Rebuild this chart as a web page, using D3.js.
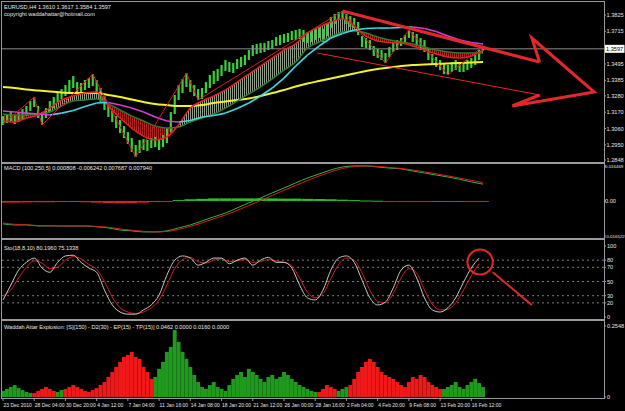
<!DOCTYPE html>
<html><head><meta charset="utf-8">
<script src="https://cdn.jsdelivr.net/npm/d3@7"></script>
<style>html,body{margin:0;padding:0;background:#000;overflow:hidden}svg{display:block}text{font-family:"Liberation Sans",Arial,sans-serif}</style>
</head><body><svg id="c" width="625" height="411"></svg>
<script>
// ---------- DATA ----------
const timeLabels = ["23 Dec 2010","28 Dec 04:00","30 Dec 20:00","4 Jan 12:00","7 Jan 04:00","11 Jan 16:00","14 Jan 08:00","18 Jan 20:00","21 Jan 12:00","26 Jan 00:00","28 Jan 16:00","2 Feb 04:00","4 Feb 20:00","9 Feb 08:00","13 Feb 20:00","16 Feb 12:00"];
const priceTicks = [1.3825,1.3715,1.3495,1.3385,1.3280,1.3170,1.3060,1.2950,1.2848];
const lastPrice = 1.3597;
// price bars sampled every 2 bars
const highs = [1.3144,1.3158,1.3171,1.3151,1.3171,1.3191,1.3212,1.3245,1.3272,1.3212,
1.3171,1.3198,1.3245,1.3272,1.3306,1.3326,1.3353,1.3387,1.3414,1.3373,
1.3367,1.3387,1.3400,1.3427,1.3387,1.3333,1.3279,1.3225,1.3185,1.3144,
1.3117,1.3077,1.3036,1.2996,1.2949,1.2983,1.2989,1.2983,1.2996,1.3003,
1.2989,1.3016,1.3063,1.3171,1.3286,1.3353,1.3394,1.3434,1.3387,1.3353,
1.3326,1.3333,1.3373,1.3421,1.3448,1.3461,1.3488,1.3522,1.3508,1.3501,
1.3528,1.3542,1.3555,1.3589,1.3623,1.3630,1.3636,1.3636,1.3650,1.3656,
1.3677,1.3690,1.3697,1.3704,1.3717,1.3724,1.3731,1.3724,1.3710,1.3724,
1.3737,1.3744,1.3731,1.3764,1.3812,1.3832,1.3845,1.3852,1.3832,1.3818,
1.3805,1.3778,1.3683,1.3670,1.3656,1.3616,1.3596,1.3589,1.3569,1.3609,
1.3636,1.3656,1.3670,1.3690,1.3724,1.3710,1.3697,1.3670,1.3656,1.3603,
1.3562,1.3542,1.3522,1.3495,1.3488,1.3508,1.3522,1.3508,1.3501,1.3522,
1.3535,1.3555,1.3589,1.3617];
const lows = [1.3084,1.3097,1.3111,1.3090,1.3104,1.3124,1.3144,1.3178,1.3205,1.3131,
1.3084,1.3131,1.3171,1.3198,1.3239,1.3259,1.3279,1.3306,1.3333,1.3293,
1.3299,1.3320,1.3333,1.3346,1.3299,1.3239,1.3185,1.3138,1.3104,1.3063,
1.3030,1.2996,1.2956,1.2902,1.2868,1.2895,1.2915,1.2908,1.2929,1.2935,
1.2915,1.2935,1.2962,1.3036,1.3158,1.3252,1.3299,1.3340,1.3306,1.3279,
1.3252,1.3259,1.3299,1.3333,1.3360,1.3380,1.3414,1.3448,1.3441,1.3434,
1.3461,1.3475,1.3488,1.3522,1.3549,1.3562,1.3569,1.3576,1.3589,1.3596,
1.3616,1.3623,1.3636,1.3643,1.3656,1.3656,1.3663,1.3643,1.3636,1.3643,
1.3656,1.3670,1.3643,1.3683,1.3737,1.3764,1.3791,1.3798,1.3764,1.3744,
1.3737,1.3690,1.3609,1.3603,1.3589,1.3549,1.3535,1.3522,1.3501,1.3542,
1.3576,1.3589,1.3616,1.3636,1.3670,1.3643,1.3616,1.3589,1.3576,1.3522,
1.3495,1.3475,1.3454,1.3427,1.3421,1.3441,1.3454,1.3441,1.3441,1.3454,
1.3468,1.3488,1.3522,1.3584];
// moving averages sampled every 6 bars
const yellowMA = [1.3340,1.3333,1.3323,1.3316,1.3309,1.3303,1.3299,1.3299,1.3299,1.3286,
1.3272,1.3255,1.3239,1.3225,1.3218,1.3212,1.3212,1.3218,1.3232,1.3242,
1.3252,1.3262,1.3279,1.3299,1.3320,1.3343,1.3363,1.3380,1.3397,1.3414,
1.3431,1.3448,1.3461,1.3471,1.3481,1.3488,1.3491,1.3495,1.3498,1.3501,
1.3505,1.3508];
const slopeMA = [1.3178,1.3171,1.3164,1.3158,1.3151,1.3164,1.3181,1.3208,1.3232,1.3235,
1.3218,1.3198,1.3171,1.3138,1.3111,1.3104,1.3114,1.3138,1.3148,1.3164,
1.3195,1.3232,1.3279,1.3333,1.3400,1.3481,1.3555,1.3616,1.3670,1.3700,
1.3724,1.3734,1.3737,1.3737,1.3741,1.3744,1.3734,1.3714,1.3683,1.3656,
1.3640,1.3630];
const fastMA = [1.3111,1.3104,1.3131,1.3151,1.3198,1.3252,1.3279,1.3299,1.3306,1.3212,
1.3131,1.3063,1.3009,1.2983,1.3003,1.3084,1.3198,1.3245,1.3279,1.3320,
1.3373,1.3427,1.3481,1.3535,1.3589,1.3630,1.3704,1.3744,1.3778,1.3798,
1.3751,1.3683,1.3650,1.3640,1.3636,1.3616,1.3589,1.3562,1.3542,1.3535,
1.3549,1.3589];
const slowMA = [1.3158,1.3151,1.3151,1.3158,1.3171,1.3212,1.3245,1.3252,1.3259,1.3225,
1.3185,1.3144,1.3111,1.3077,1.3063,1.3070,1.3104,1.3131,1.3158,1.3198,
1.3245,1.3293,1.3340,1.3394,1.3454,1.3508,1.3603,1.3643,1.3677,1.3710,
1.3717,1.3704,1.3677,1.3656,1.3643,1.3630,1.3609,1.3589,1.3576,1.3569,
1.3569,1.3569];
// zigzag (bar index, price)
const zzIdx = [0,16,20,46,68,94,100,174,196,208,228,246];
const zzPrice = [1.3090,1.3272,1.3084,1.3427,1.2868,1.3434,1.3252,1.3852,1.3501,1.3724,1.3421,1.3616];
// drawn objects (bar index, price)
const upperLineIdx = [174,275], upperLinePrice = [1.3852,1.3508];
const lowerLineIdx = [161,275], lowerLinePrice = [1.3569,1.3286];
const arrowIdx = [275,271,303,261,275], arrowPrice = [1.3508,1.3670,1.3306,1.3212,1.3286];
// MACD sampled every 6 bars
const macdMain = [-0.0108,-0.0113,-0.0113,-0.0118,-0.0118,-0.0118,-0.0118,-0.0118,-0.0122,-0.0127,
-0.0137,-0.0141,-0.0146,-0.0146,-0.0141,-0.0127,-0.0113,-0.0094,-0.0075,-0.0057,
-0.0033,-0.0009,0.0014,0.0038,0.0061,0.0085,0.0108,0.0127,0.0146,0.0160,
0.0165,0.0165,0.0160,0.0155,0.0151,0.0141,0.0132,0.0122,0.0113,0.0102,
0.0090,0.0079];
const macdSignal = [-0.0104,-0.0110,-0.0112,-0.0116,-0.0117,-0.0118,-0.0118,-0.0118,-0.0120,-0.0124,
-0.0132,-0.0138,-0.0143,-0.0146,-0.0144,-0.0134,-0.0120,-0.0103,-0.0084,-0.0066,
-0.0045,-0.0021,0.0002,0.0026,0.0050,0.0073,0.0096,0.0118,0.0137,0.0153,
0.0162,0.0165,0.0163,0.0158,0.0153,0.0146,0.0137,0.0128,0.0118,0.0108,
0.0097,0.0087];
const macdHist = [-0.0008,-0.0008,-0.0007,-0.0006,-0.0006,-0.0005,-0.0005,-0.0006,-0.0008,-0.0010,
-0.0011,-0.0010,-0.0008,-0.0005,-0.0002,0.0004,0.0008,0.0010,0.0012,0.0012,
0.0012,0.0012,0.0012,0.0012,0.0011,0.0011,0.0010,0.0009,0.0008,0.0006,
0.0004,0.0002,0.0001,-0.0001,-0.0002,-0.0003,-0.0004,-0.0005,-0.0005,-0.0005,
-0.0004,-0.0003];
// Stochastic sampled every 4 bars
const stoMain = [24,45,66,77,83,69,63,77,86,87,77,69,63,38,17,7,4,4,10,17,31,59,80,86,83,73,77,83,83,75,80,83,73,80,84,77,77,69,45,27,24,38,66,83,86,77,52,27,17,21,41,66,73,55,27,10,7,13,27,49,69,83];
const stoSignal = [30,38,55,70,79,76,68,70,80,85,82,74,67,50,28,13,7,5,7,13,24,45,68,81,84,78,76,80,82,78,79,81,77,78,81,79,77,72,55,35,27,33,54,74,83,80,62,38,22,20,33,55,68,62,38,18,10,11,20,38,58,75];
const stoLevels = [80,70,50,30,20];
const stoTicks = [100,80,70,50,30,20,0];
const circleIdx = [238,251], circleVal = [95,60];
const slashIdx = [251,271], slashVal = [63,17];
// Waddah Attar Explosion trend, every 2 bars (positive = up/green, negative = down/red)
const waeTrend = [0.022,0.029,0.036,0.043,0.032,0.025,0.018,0.014,
-0.014,-0.022,-0.029,-0.036,-0.029,-0.022,0.018,0.025,
-0.029,-0.036,-0.043,-0.036,-0.029,-0.022,-0.018,-0.025,-0.032,-0.043,
-0.054,-0.072,-0.090,-0.108,-0.126,-0.144,-0.151,-0.162,-0.144,-0.137,-0.108,-0.090,-0.065,
0.072,0.101,0.126,0.162,0.180,0.241,0.198,0.162,0.137,0.108,0.079,0.054,
0.036,0.029,0.043,0.054,0.036,0.029,0.022,
0.043,0.065,0.079,0.090,0.072,0.101,0.090,0.079,0.065,0.054,0.072,0.079,0.065,
0.072,0.090,0.079,0.065,0.054,0.043,0.036,0.029,0.022,0.018,
-0.018,-0.029,-0.043,-0.036,-0.029,0.022,0.029,0.036,
-0.043,-0.065,-0.090,-0.108,-0.126,-0.137,-0.126,-0.108,-0.090,-0.079,-0.072,-0.065,-0.054,-0.043,-0.036,
-0.054,-0.072,-0.065,-0.079,-0.072,-0.054,-0.043,-0.036,-0.029,
0.029,0.036,0.043,0.054,0.036,0.029,0.043,0.054,0.065,0.050,0.036];

// ---------- LAYOUT ----------
const svg = d3.select('#c');
const L = 2, R = 604;
const P = {main:[2,162], macd:[164,238], sto:[240,319], wae:[321,398]};
const x = d3.scaleLinear().domain([0,308]).range([3,604]);
const yP = d3.scaleLinear().domain([1.2848,1.3825]).range([160,15]);
const yM = d3.scaleLinear().domain([-0.016522,0.016469]).range([236,166]);
const yS = d3.scaleLinear().domain([0,100]).range([317,246]);
const yW = d3.scaleLinear().domain([0,0.2548]).range([397,326]);
const idx2 = highs.map((d,k)=>k*2);
const idx6 = yellowMA.map((d,k)=>k*6);
const idx4 = stoMain.map((d,k)=>k*4);

svg.append('rect').attr('width',625).attr('height',411).attr('fill','#000');
const defs = svg.append('defs');
function hatch(id,color){
  const p = defs.append('pattern').attr('id',id).attr('patternUnits','userSpaceOnUse').attr('width',2).attr('height',4);
  p.append('rect').attr('width',1).attr('height',4).attr('fill',color);
}
hatch('hUp','#8f9c88'); hatch('hDn','#a82020');
Object.entries(P).forEach(([k,v])=>{
  defs.append('clipPath').attr('id','clip-'+k).append('rect').attr('x',L).attr('y',v[0]).attr('width',R-L).attr('height',v[1]-v[0]);
});
const txt = (g,xx,yy,s,size,fill)=>g.append('text').attr('x',xx).attr('y',yy).attr('font-size',size||6)
    .attr('fill',fill||'#e6e6e6').attr('text-anchor','start').text(s);

// ---------- MAIN PANEL ----------
const gm = svg.append('g').attr('clip-path','url(#clip-main)');
const fastLine = d3.line().x((d,k)=>x(idx6[k])).y(d=>yP(d)).curve(d3.curveMonotoneX);
const band = d3.area().x((d,k)=>x(idx6[k])).y0((d,k)=>yP(slowMA[k])).y1(d=>yP(d)).curve(d3.curveMonotoneX);
const below = d3.area().x((d,k)=>x(idx6[k])).y0(d=>yP(d)).y1(P.main[1]).curve(d3.curveMonotoneX);
const above = d3.area().x((d,k)=>x(idx6[k])).y0(P.main[0]).y1(d=>yP(d)).curve(d3.curveMonotoneX);
defs.append('clipPath').attr('id','cUp').append('path').attr('d',below(fastMA));
defs.append('clipPath').attr('id','cDn').append('path').attr('d',above(fastMA));
gm.append('g').attr('clip-path','url(#cUp)').append('path').attr('d',band(fastMA)).attr('fill','url(#hUp)');
gm.append('g').attr('clip-path','url(#cDn)').append('path').attr('d',band(fastMA)).attr('fill','url(#hDn)');
gm.append('g').selectAll('line').data(highs).join('line')
  .attr('x1',(d,k)=>x(idx2[k])).attr('x2',(d,k)=>x(idx2[k]))
  .attr('y1',d=>yP(d)).attr('y2',(d,k)=>yP(lows[k]))
  .attr('stroke','#3ccf3c').attr('stroke-width',2.2);
gm.append('line').attr('x1',L).attr('x2',R).attr('y1',yP(lastPrice)).attr('y2',yP(lastPrice)).attr('stroke','#8c8c8c').attr('stroke-width',1);
const maLine = d3.line().x((d,k)=>x(idx6[k])).y(d=>yP(d)).curve(d3.curveMonotoneX);
gm.append('path').attr('d',maLine(yellowMA)).attr('fill','none').attr('stroke','#f2f22a').attr('stroke-width',2);
gm.append('path').attr('d',maLine(slowMA)).attr('fill','none').attr('stroke','#2f7a2f').attr('stroke-width',1.5);
gm.append('path').attr('d',fastLine(fastMA)).attr('fill','none').attr('stroke','#e82020').attr('stroke-width',1.5);
for(let k=0;k<slopeMA.length-1;k++){
  gm.append('path').attr('d',d3.line()([[x(idx6[k]),yP(slopeMA[k])],[x(idx6[k+1]),yP(slopeMA[k+1])]]))
    .attr('stroke', slopeMA[k+1]>=slopeMA[k] ? '#3fd8e8' : '#d23fd2').attr('stroke-width',1.6).attr('fill','none');
}
gm.append('path').attr('d',d3.line()(zzIdx.map((d,k)=>[x(d),yP(zzPrice[k])]))).attr('fill','none').attr('stroke','#d41c1c').attr('stroke-width',1);
const objLine = (ix,pv,w)=>gm.append('path').attr('d',d3.line()(ix.map((d,k)=>[x(d),yP(pv[k])]))).attr('fill','none').attr('stroke','#e4272b').attr('stroke-width',w).attr('stroke-linejoin','miter');
objLine(upperLineIdx,upperLinePrice,3);
objLine(lowerLineIdx,lowerLinePrice,1);
objLine(arrowIdx,arrowPrice,3);

// ---------- MACD ----------
const gc = svg.append('g').attr('clip-path','url(#clip-macd)');
const bw6 = x(6)-x(0);
gc.selectAll('rect').data(macdHist).join('rect')
  .attr('x',(d,k)=>x(idx6[k])-bw6/2).attr('width',bw6)
  .attr('y',d=>Math.min(yM(d),yM(0))).attr('height',d=>Math.max(1,Math.abs(yM(d)-yM(0))))
  .attr('fill',d=>d>=0?'#29c229':'#e02020');
const mLine = d3.line().x((d,k)=>x(idx6[k])).y(d=>yM(d)).curve(d3.curveMonotoneX);
gc.append('path').attr('d',mLine(macdMain)).attr('fill','none').attr('stroke','#3cb43c').attr('stroke-width',1);
gc.append('path').attr('d',mLine(macdSignal)).attr('fill','none').attr('stroke','#d02020').attr('stroke-width',1);

// ---------- STOCH ----------
const gs = svg.append('g').attr('clip-path','url(#clip-sto)');
gs.selectAll('line.lv').data(stoLevels).join('line').attr('class','lv')
  .attr('x1',L).attr('x2',R).attr('y1',d=>yS(d)).attr('y2',d=>yS(d))
  .attr('stroke','#7a7a7a').attr('stroke-width',1).attr('stroke-dasharray','2,3');
const sLine = d3.line().x((d,k)=>x(idx4[k])).y(d=>yS(d)).curve(d3.curveMonotoneX);
gs.append('path').attr('d',sLine(stoSignal)).attr('fill','none').attr('stroke','#d02020').attr('stroke-width',1);
gs.append('path').attr('d',sLine(stoMain)).attr('fill','none').attr('stroke','#c8c8c8').attr('stroke-width',1);
const cx0=x(circleIdx[0]), cx1=x(circleIdx[1]), cy0=yS(circleVal[0]), cy1=yS(circleVal[1]);
gs.append('ellipse').attr('cx',(cx0+cx1)/2).attr('cy',(cy0+cy1)/2).attr('rx',(cx1-cx0)/2).attr('ry',(cy1-cy0)/2)
  .attr('fill','none').attr('stroke','#e4272b').attr('stroke-width',2);
gs.append('line').attr('x1',x(slashIdx[0])).attr('y1',yS(slashVal[0])).attr('x2',x(slashIdx[1])).attr('y2',yS(slashVal[1]))
  .attr('stroke','#e4272b').attr('stroke-width',2);

// ---------- WAE ----------
const gw = svg.append('g').attr('clip-path','url(#clip-wae)');
const bw2 = x(2)-x(0);
gw.selectAll('rect').data(waeTrend).join('rect')
  .attr('x',(d,k)=>x(idx2[k])-bw2/2).attr('width',bw2)
  .attr('y',d=>yW(Math.abs(d))).attr('height',d=>yW(0)-yW(Math.abs(d)))
  .attr('fill',d=>d>=0?'#1f9a1f':'#f01818');

// ---------- FRAMES & AXES ----------
Object.values(P).forEach(v=>{
  svg.append('rect').attr('x',L-0.5).attr('y',v[0]-0.5).attr('width',R-L+1).attr('height',v[1]-v[0]+1)
    .attr('fill','none').attr('stroke','#9a9a9a').attr('stroke-width',1);
});
const ga = svg.append('g');
const rtick = (yy)=>ga.append('line').attr('x1',R).attr('x2',R+2).attr('y1',yy).attr('y2',yy).attr('stroke','#9a9a9a');
priceTicks.forEach(t=>{ rtick(yP(t)); txt(ga,R+2.5,yP(t)+2,t.toFixed(4),5.6); });
ga.append('rect').attr('x',R+1).attr('y',yP(lastPrice)-4).attr('width',19.5).attr('height',8).attr('fill','#fff');
txt(ga,R+2,yP(lastPrice)+2.2,lastPrice.toFixed(4),5.6,'#000');
[[0.016469,'0.016469'],[0,'0.00'],[-0.016522,'-0.016522']].forEach(d=>{ rtick(yM(d[0])); txt(ga,R+1,yM(d[0])+2,d[1],d[1].length>4?4.4:5.6); });
stoTicks.forEach(t=>{ rtick(yS(t)); txt(ga,R+3,yS(t)+2,String(t),5.6); });
[[0.2548,'0.2548'],[0,'0']].forEach(d=>{ rtick(yW(d[0])); txt(ga,R+3,yW(d[0])+2,d[1],5.6); });
timeLabels.forEach((s,k)=>{
  const xx = x(k*16);
  ga.append('line').attr('x1',xx).attr('x2',xx).attr('y1',398).attr('y2',401).attr('stroke','#9a9a9a');
  txt(ga,xx+0.5,407,s,5);
});
txt(ga,4,9,'EURUSD,H4  1.3610 1.3617 1.3584 1.3597',5.6);
txt(ga,4,15.5,'copyright waddahattar@hotmail.com',5.6);
txt(ga,4,170,'MACD  (100,250,5) 0.000808 -0.006242 0.007687 0.007940',5.6);
txt(ga,4,250,'Sto(18,8,10) 80.1960 75.1338',5.6);
txt(ga,4,329,'Waddah Attar Explosion: [S](150) - D2(30) - EP(15) - TP(15)] 0.0462 0.0000 0.0160 0.0000',5.6);
</script></body></html>
